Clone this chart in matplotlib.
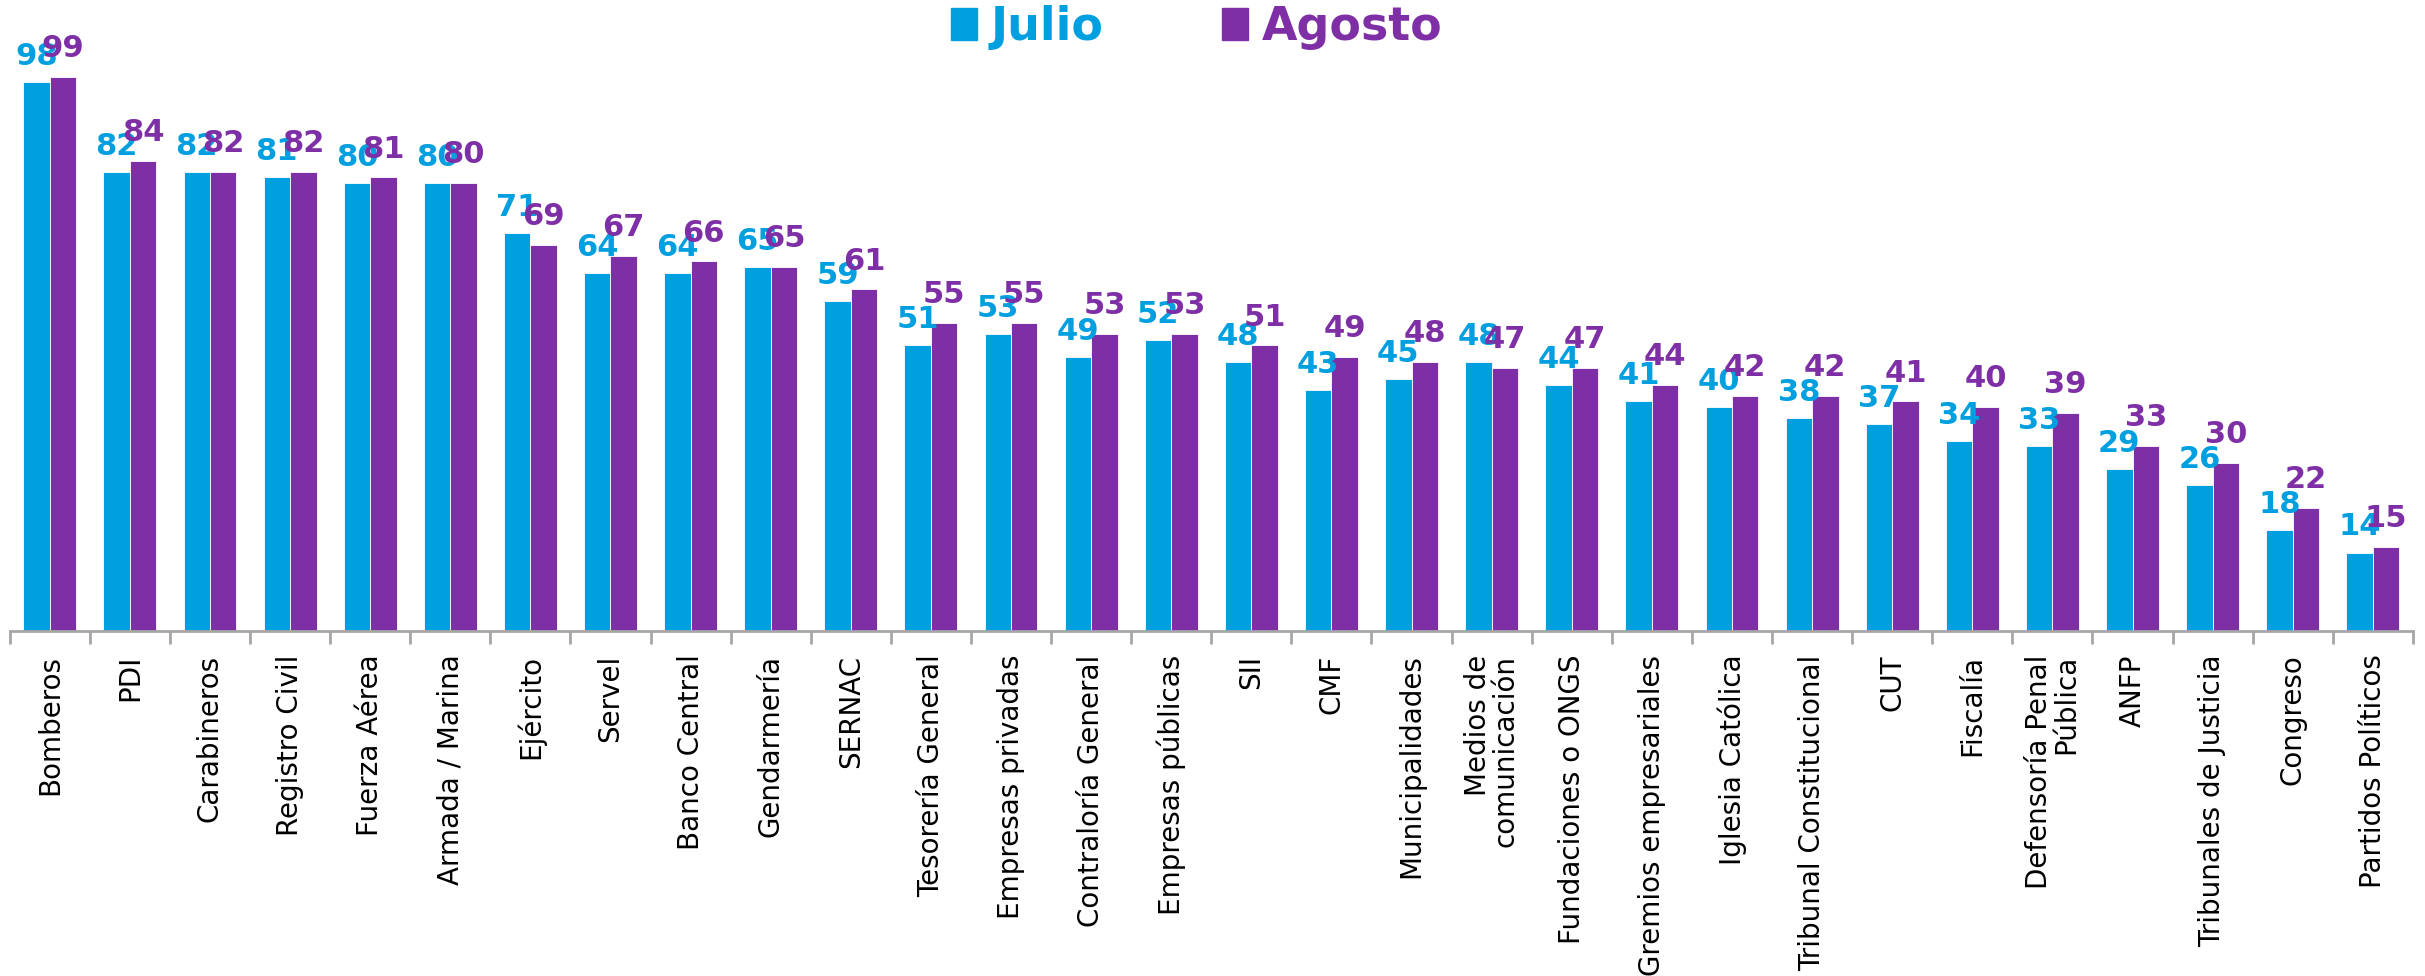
import numpy as np
import matplotlib
matplotlib.use("Agg")
import matplotlib.pyplot as plt
from matplotlib.patches import Patch

categorias = ["Bomberos", "PDI", "Carabineros", "Registro Civil", "Fuerza Aérea",
              "Armada / Marina", "Ejército", "Servel", "Banco Central", "Gendarmería",
              "SERNAC", "Tesorería General", "Empresas privadas", "Contraloría General",
              "Empresas públicas", "SII", "CMF", "Municipalidades",
              "Medios de\ncomunicación", "Fundaciones o ONGS", "Gremios empresariales",
              "Iglesia Católica", "Tribunal Constitucional", "CUT", "Fiscalía",
              "Defensoría Penal\nPública", "ANFP", "Tribunales de Justicia", "Congreso",
              "Partidos Políticos"]
julio = [98, 82, 82, 81, 80, 80, 71, 64, 64, 65, 59, 51, 53, 49, 52, 48, 43, 45,
         48, 44, 41, 40, 38, 37, 34, 33, 29, 26, 18, 14]
agosto = [99, 84, 82, 82, 81, 80, 69, 67, 66, 65, 61, 55, 55, 53, 53, 51, 49, 48,
          47, 47, 44, 42, 42, 41, 40, 39, 33, 30, 22, 15]

c_julio = "#009FDF"
c_agosto = "#7F2FA6"

fig = plt.figure(figsize=(24.25, 9.76), dpi=100)
ax = fig.add_axes([0.004, 0.3535, 0.991, 0.631])

x = np.arange(len(categorias))
w = 0.33
b1 = ax.bar(x - w / 2, julio, w, color=c_julio, edgecolor="white", linewidth=0.6)
b2 = ax.bar(x + w / 2, agosto, w, color=c_agosto, edgecolor="white", linewidth=0.6)

for rect, v in zip(b1, julio):
    ax.annotate(str(v), (rect.get_x() + rect.get_width() / 2, rect.get_height()),
                xytext=(0, 8), textcoords="offset points", ha="center", va="bottom",
                fontsize=22, fontweight="bold", color=c_julio)
for rect, v in zip(b2, agosto):
    ax.annotate(str(v), (rect.get_x() + rect.get_width() / 2, rect.get_height()),
                xytext=(0, 10), textcoords="offset points", ha="center", va="bottom",
                fontsize=22, fontweight="bold", color=c_agosto)

ax.set_xlim(-0.5, len(categorias) - 0.5)
ax.set_ylim(0, 110)
ax.set_yticks([])
for s in ["top", "right", "left"]:
    ax.spines[s].set_visible(False)
ax.spines["bottom"].set_color("#A6A6A6")
ax.spines["bottom"].set_linewidth(2)

ax.set_xticks(x)
ax.set_xticklabels(categorias, rotation=90, fontsize=20, color="black",
                   multialignment="right", linespacing=0.95)
ax.tick_params(axis="x", which="major", length=0, pad=17)
ax.set_xticks(np.arange(-0.5, len(categorias), 1), minor=True)
ax.tick_params(axis="x", which="minor", length=9, width=2, color="#A6A6A6")

handles = [Patch(color=c_julio), Patch(color=c_agosto)]
fig.legend(handles, ["Julio", "Agosto"], loc="center", bbox_to_anchor=(0.4935, 0.972),
           ncol=2, frameon=False, labelcolor=[c_julio, c_agosto],
           prop={"size": 33, "weight": "bold"}, handlelength=0.55, handleheight=0.7,
           handletextpad=0.3, columnspacing=2.6)

fig.savefig("out.png", dpi=100)
